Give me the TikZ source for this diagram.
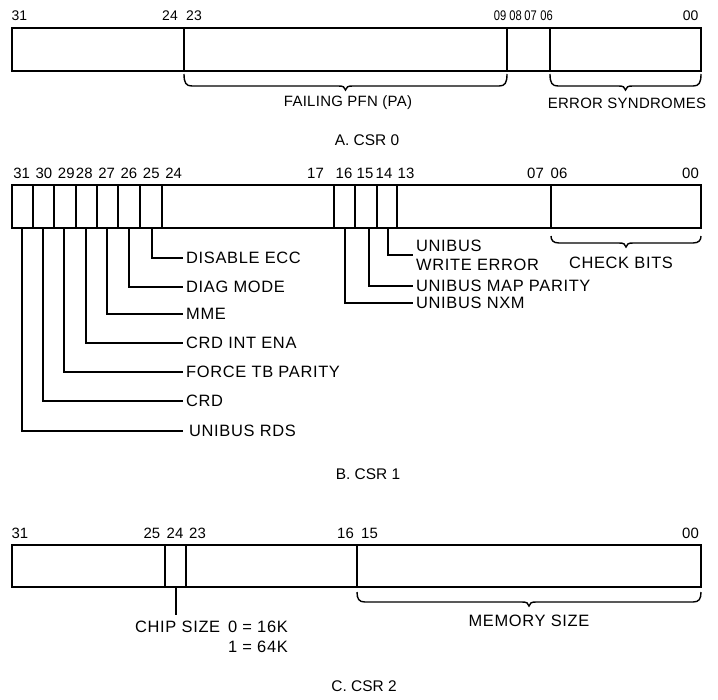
\documentclass[tikz,border=0pt]{standalone}
\usepackage{fontspec}
\setmainfont{Liberation Sans}
\tikzset{
  regbox/.style={line width=1.8bp},
  leader/.style={line width=1.4bp},
  brc/.style={line width=1.4bp},
  numa/.style={font=\fontsize{14}{16}\selectfont, anchor=base, inner sep=0pt},
  numn/.style={numa, xscale=0.8, transform shape},
  num/.style={font=\fontsize{15}{17}\selectfont, anchor=base, inner sep=0pt},
  lbla/.style={font=\fontsize{15}{18}\selectfont\addfontfeatures{LetterSpace=2}, inner sep=0pt},
  lbl/.style={font=\fontsize{16.5}{19}\selectfont\addfontfeatures{LetterSpace=4}, inner sep=0pt},
  lblw/.style={lbl, anchor=west, inner xsep=3bp, inner ysep=0pt},
  capt/.style={font=\fontsize{15.5}{18}\selectfont, inner sep=0pt}
}
\newcommand\regbrace[4]{%
  \draw[brc] (#1,#3) .. controls (#1,#4-3) and (#1+2,#4) .. (#1+8,#4)
    -- ({(#1+#2)/2-7},#4) .. controls ({(#1+#2)/2-2},#4) and ({(#1+#2)/2-1},#4+1) .. ({(#1+#2)/2},#4+4)
    .. controls ({(#1+#2)/2+1},#4+1) and ({(#1+#2)/2+2},#4) .. ({(#1+#2)/2+7},#4)
    -- (#2-8,#4) .. controls (#2-2,#4) and (#2,#4-3) .. (#2,#3);}
\begin{document}
\begin{tikzpicture}[x=1bp,y=-1bp]
\useasboundingbox (0,0) rectangle (718,700);

% ---------------- CSR 0 ----------------
\draw[regbox] (12,28) rectangle (701,71);
\foreach \d in {184,507,550} \draw[regbox] (\d,28) -- (\d,71);
\node[numa] (a31) at (19.5,21) {31};
\node[numa] (a24) at (170,21) {24};
\node[numa] (a23) at (194,21) {23};
\node[numn] (a09) at (500,21) {09};
\node[numn] (a08) at (515.5,21) {08};
\node[numn] (a07) at (530.5,21) {07};
\node[numn] (a06) at (546.5,21) {06};
\node[numa] (a00) at (690.5,21) {00};
\regbrace{184}{507}{74}{86}
\regbrace{550}{701}{74}{86}
\node[lbla] (pfn) at (348,103) {FAILING PFN (PA)};
\node[lbla] (syn) at (627,103) {ERROR SYNDROMES};
\node[capt] (capA) at (367,140) {A. CSR 0};

% ---------------- CSR 1 ----------------
\draw[regbox] (12,185) rectangle (701,228);
\foreach \d in {33,54,76,97,118,140,162,334,355,377,397,551} \draw[regbox] (\d,185) -- (\d,228);
\node[num] (b31) at (21.7,178) {31};
\node[num] (b30) at (44,178) {30};
\node[num] (b29) at (66.3,178) {29};
\node[num] (b28) at (84.3,178) {28};
\node[num] (b27) at (106.7,178) {27};
\node[num] (b26) at (129,178) {26};
\node[num] (b25) at (151.3,178) {25};
\node[num] (b24) at (173.7,178) {24};
\node[num] (b17) at (315.5,178) {17};
\node[num] (b16) at (344,178) {16};
\node[num] (b15) at (365,178) {15};
\node[num] (b14) at (384,178) {14};
\node[num] (b13) at (406,178) {13};
\node[num] (b07) at (535.5,178) {07};
\node[num] (b06) at (559,178) {06};
\node[num] (b00) at (690.5,178) {00};

\coordinate (p31) at (22,228);
\coordinate (p30) at (43,228);
\coordinate (p29) at (64,228);
\coordinate (p28) at (86,228);
\coordinate (p27) at (107,228);
\coordinate (p26) at (129,228);
\coordinate (p25) at (152,228);
\coordinate (p16) at (345,228);
\coordinate (p15) at (369,228);
\coordinate (p14) at (388,228);

\node[lblw] (ldis) at (183,258) {DISABLE ECC};
\node[lblw] (ldiag) at (183,287) {DIAG MODE};
\node[lblw] (lmme) at (183,314) {MME};
\node[lblw] (lcrdi) at (183,343) {CRD INT ENA};
\node[lblw] (lftb) at (183,372) {FORCE TB PARITY};
\node[lblw] (lcrd) at (183,401) {CRD};
\node[lblw, inner xsep=6bp] (lrds) at (183,431) {UNIBUS RDS};
\draw[leader] (p25) |- (ldis.west);
\draw[leader] (p26) |- (ldiag.west);
\draw[leader] (p27) |- (lmme.west);
\draw[leader] (p28) |- (lcrdi.west);
\draw[leader] (p29) |- (lftb.west);
\draw[leader] (p30) |- (lcrd.west);
\draw[leader] (p31) |- (lrds.west);

\node[lblw, align=left] (lwe) at (413,255) {UNIBUS\\WRITE ERROR};
\node[lblw] (lmap) at (413,286) {UNIBUS MAP PARITY};
\node[lblw] (lnxm) at (413,303) {UNIBUS NXM};
\draw[leader] (p14) |- (lwe.west);
\draw[leader] (p15) |- (lmap.west);
\draw[leader] (p16) |- (lnxm.west);

\regbrace{551}{701}{236}{243}
\node[lbl] (chk) at (621,263) {CHECK BITS};
\node[capt] (capB) at (368,474) {B. CSR 1};

% ---------------- CSR 2 ----------------
\draw[regbox] (12,545) rectangle (701,587);
\foreach \d in {165,186,357} \draw[regbox] (\d,545) -- (\d,587);
\node[num] (c31) at (20,538) {31};
\node[num] (c25) at (152,538) {25};
\node[num] (c24) at (175,538) {24};
\node[num] (c23) at (197.5,538) {23};
\node[num] (c16) at (345.5,538) {16};
\node[num] (c15) at (369.5,538) {15};
\node[num] (c00) at (690.5,538) {00};

\coordinate (q24) at (176,587);
\coordinate (chipend) at (176,615);
\draw[leader] (q24) -- (chipend);
\node[lbl, anchor=west] (chip) at (135,627) {CHIP SIZE};
\node[lbl, anchor=east] (ch0) at (288,627) {0 = 16K};
\node[lbl, anchor=east] (ch1) at (288,647) {1 = 64K};

\regbrace{357}{701}{592}{602}
\node[lbl] (mem) at (529,621) {MEMORY SIZE};
\node[capt] (capC) at (364,686) {C. CSR 2};
\end{tikzpicture}
\end{document}
